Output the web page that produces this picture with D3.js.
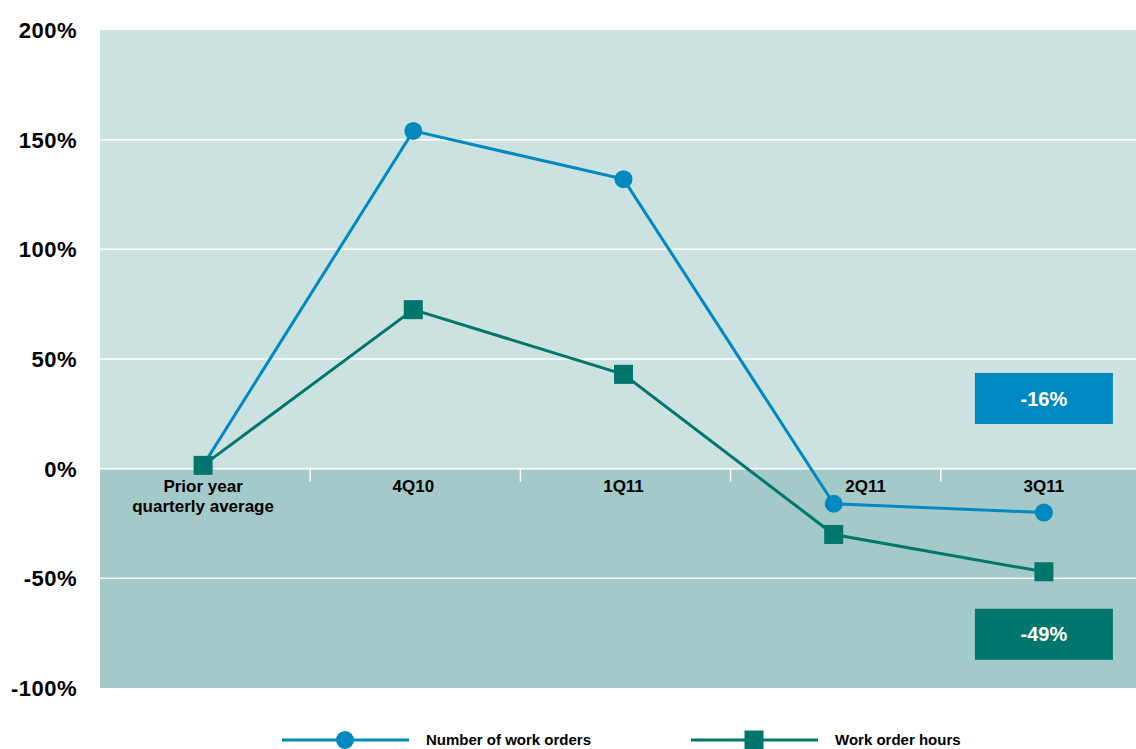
<!DOCTYPE html>
<html>
<head>
<meta charset="utf-8">
<script src="https://cdn.jsdelivr.net/npm/d3@7"></script>
<style>
  body { margin: 0; background: #fff; }
  text { font-family: "Liberation Sans", Arial, sans-serif; font-weight: bold; }
</style>
</head>
<body>
<div id="canvas"></div>
<script>
var categories = ["Prior year\nquarterly average", "4Q10", "1Q11", "2Q11", "3Q11"];
var workOrders = [1.5, 154, 132, -16, -20];
var workOrderHours = [1.5, 72.5, 43, -30, -47];
var yTicks = [200, 150, 100, 50, 0, -50, -100];
var badges = [{ label: "-16%", value: 32, color: "#0089c0" }, { label: "-49%", value: -75.5, color: "#00766c" }];
var legendItems = ["Number of work orders", "Work order hours"];

var width = 1136, height = 749;
var blue = "#0089c0", teal = "#00766c";

var svg = d3.select("#canvas").append("svg")
    .attr("width", width)
    .attr("height", height);

var x = d3.scaleBand().domain(categories).range([98, 1149]);
var y = d3.scaleLinear().domain([-100, 200]).range([688, 30]);

// background bands
svg.append("rect")
    .attr("x", 100).attr("y", y(200))
    .attr("width", 1050).attr("height", y(0) - y(200))
    .attr("fill", "#cce2e0");
svg.append("rect")
    .attr("x", 100).attr("y", y(0))
    .attr("width", 1050).attr("height", y(-100) - y(0))
    .attr("fill", "#a3c9c8");

// gridlines
svg.append("g").selectAll("line")
    .data(yTicks.filter(function (d) { return d != 200 && d != -100; }))
    .enter().append("line")
    .attr("x1", 100).attr("x2", 1150)
    .attr("y1", function (d) { return y(d); })
    .attr("y2", function (d) { return y(d); })
    .attr("stroke", "#fff")
    .attr("stroke-width", 1.5);

// y labels
svg.append("g").selectAll("text")
    .data(yTicks)
    .enter().append("text")
    .attr("x", 77)
    .attr("y", function (d) { return y(d); })
    .attr("dy", "0.36em")
    .attr("text-anchor", "end")
    .style("font-size", "22px")
    .style("letter-spacing", "0.5px")
    .text(function (d) { return d + "%"; });

// category separator ticks
svg.append("g").selectAll("line")
    .data(categories.slice(1))
    .enter().append("line")
    .attr("x1", function (d) { return x(d) + 2; })
    .attr("x2", function (d) { return x(d) + 2; })
    .attr("y1", y(0)).attr("y2", y(0) + 13)
    .attr("stroke", "#fff")
    .attr("stroke-width", 1.5);

// x labels
var xl = svg.append("g").selectAll("text")
    .data(categories)
    .enter().append("text")
    .attr("x", function (d, i) { return x(d) + x.bandwidth() / 2 + (i == 3 ? 32 : 0); })
    .attr("y", 492)
    .attr("text-anchor", "middle")
    .style("font-size", "17px");
xl.each(function (d) {
    var lines = d.split("\n");
    var t = d3.select(this);
    lines.forEach(function (l, k) {
        t.append("tspan")
            .attr("x", t.attr("x"))
            .attr("dy", k == 0 ? 0 : 20)
            .text(l);
    });
});

// badges
var bw = 138, bh = 51;
svg.append("g").selectAll("rect")
    .data(badges)
    .enter().append("rect")
    .attr("x", x(categories[4]) + x.bandwidth() / 2 - bw / 2)
    .attr("y", function (d) { return y(d.value) - bh / 2; })
    .attr("width", bw).attr("height", bh)
    .attr("fill", function (d) { return d.color; });
svg.append("g").selectAll("text")
    .data(badges)
    .enter().append("text")
    .attr("x", x(categories[4]) + x.bandwidth() / 2)
    .attr("y", function (d) { return y(d.value); })
    .attr("dy", "0.36em")
    .attr("text-anchor", "middle")
    .attr("fill", "#fff")
    .style("font-size", "20px")
    .text(function (d) { return d.label; });

var cx = function (d, i) { return x(categories[i]) + x.bandwidth() / 2; };
var line = d3.line().x(cx).y(function (d) { return y(d); });

svg.append("path").datum(workOrders)
    .attr("d", line).attr("fill", "none")
    .attr("stroke", blue).attr("stroke-width", 3);
svg.append("path").datum(workOrderHours)
    .attr("d", line).attr("fill", "none")
    .attr("stroke", teal).attr("stroke-width", 3);

svg.append("g").selectAll("circle")
    .data(workOrders)
    .enter().append("circle")
    .attr("cx", cx)
    .attr("cy", function (d) { return y(d); })
    .attr("r", 9)
    .attr("fill", blue);

var sq = 19;
svg.append("g").selectAll("rect")
    .data(workOrderHours)
    .enter().append("rect")
    .attr("x", function (d, i) { return cx(d, i) - sq / 2; })
    .attr("y", function (d) { return y(d) - sq / 2; })
    .attr("width", sq).attr("height", sq)
    .attr("fill", teal);

// legend
var legend = svg.append("g").attr("transform", "translate(0,740)");
var lg = legend.selectAll("g")
    .data(legendItems)
    .enter().append("g")
    .attr("transform", function (d, i) { return "translate(" + (282 + i * 409) + ",0)"; });
lg.append("line")
    .attr("x1", 0).attr("x2", 127)
    .attr("stroke", function (d, i) { return i == 0 ? blue : teal; })
    .attr("stroke-width", 3);
lg.filter(function (d, i) { return i == 0; }).append("circle")
    .attr("cx", 63).attr("r", 9).attr("fill", blue);
lg.filter(function (d, i) { return i == 1; }).append("rect")
    .attr("x", 63 - sq / 2).attr("y", -sq / 2)
    .attr("width", sq).attr("height", sq).attr("fill", teal);
lg.append("text")
    .attr("x", 144)
    .attr("y", 5)
    .style("font-size", "15px")
    .text(function (d) { return d; });
</script>
</body>
</html>
